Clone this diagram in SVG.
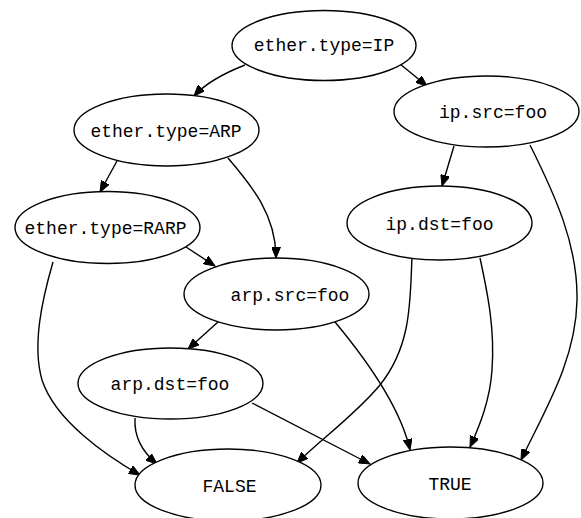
<svg xmlns="http://www.w3.org/2000/svg" width="581" height="518" viewBox="0 0 581 518">
<style>
.n ellipse{fill:#fff;stroke:#000;stroke-width:1.4}
.n text{font-family:"Liberation Mono","Courier New",monospace;font-size:18px;fill:#000;text-anchor:middle}
#edges path{fill:none;stroke:#000;stroke-width:1.4;marker-end:url(#ah)}
</style>
<defs>
<marker id="ah" markerUnits="userSpaceOnUse" markerWidth="12" markerHeight="9" refX="11" refY="4.5" orient="auto" viewBox="0 0 12 9">
<path d="M0,0 L11,4.5 L0,9 z" fill="#000" stroke="#000" stroke-width="1"/>
</marker>
</defs>
<rect width="581" height="518" fill="#fff"/>
<g id="edges">
<path d="M245,65 C222,74 205,84 194,96"/>
<path d="M400,64 L427,86"/>
<path d="M117,161 L100,192"/>
<path d="M228,158 C252,186 276,215 276,258"/>
<path d="M454,146 L442,186"/>
<path d="M530,145 C555,195 578,245 577,300 C576,360 545,410 521,460"/>
<path d="M186,247 L215,266"/>
<path d="M53,262 C42,300 32,345 42,380 C55,420 105,455 140,475"/>
<path d="M218,322 L188,349"/>
<path d="M335,322 C360,352 400,405 410,450"/>
<path d="M412,257 C410,300 412,345 380,385 C355,415 320,440 297,463"/>
<path d="M480,258 C488,295 495,330 492,370 C490,400 480,425 470,447"/>
<path d="M135,418 C134,435 140,450 157,464"/>
<path d="M252,403 L370,464"/>
</g>
<g id="n_ether_ip" class="n"><ellipse cx="324" cy="45.5" rx="92" ry="35"/><text x="324" y="51">ether.type=IP</text></g>
<g id="n_ip_src" class="n"><ellipse cx="486.5" cy="111.5" rx="92.5" ry="35.5"/><text x="493" y="118">ip.src=foo</text></g>
<g id="n_ether_arp" class="n"><ellipse cx="166.5" cy="130" rx="92.5" ry="36"/><text x="166" y="137">ether.type=ARP</text></g>
<g id="n_ip_dst" class="n"><ellipse cx="439.5" cy="223" rx="92.5" ry="37"/><text x="439.5" y="230">ip.dst=foo</text></g>
<g id="n_ether_rarp" class="n"><ellipse cx="107.5" cy="227.5" rx="92.5" ry="36"/><text x="105.5" y="234">ether.type=RARP</text></g>
<g id="n_arp_src" class="n"><ellipse cx="276.5" cy="294" rx="92.5" ry="36"/><text x="290" y="301">arp.src=foo</text></g>
<g id="n_arp_dst" class="n"><ellipse cx="170.5" cy="383.5" rx="92.5" ry="35.5"/><text x="170" y="390">arp.dst=foo</text></g>
<g id="n_false" class="n"><ellipse cx="228" cy="485" rx="93" ry="36"/><text x="229.5" y="492">FALSE</text></g>
<g id="n_true" class="n"><ellipse cx="450.5" cy="483" rx="92.5" ry="36"/><text x="450" y="490">TRUE</text></g>
</svg>
